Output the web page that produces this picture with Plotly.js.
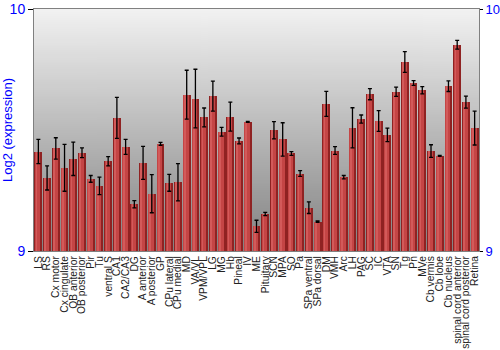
<!DOCTYPE html>
<html><head><meta charset="utf-8">
<script src="https://cdn.plot.ly/plotly-3.0.1.min.js"></script>
<style>html,body{margin:0;padding:0;background:#fff}#chart{width:500px;height:350px}</style>
</head><body><div id="chart"></div>
<script>
const categories = ["LS","RS","Cx motor","Cx cingulate","OB anterior","OB posterior","Pir","Tu","ventral S","CA1","CA2/CA3","DG","A anterior","A posterior","GP","CPu lateral","CPu medial","MD","VA/VL","VPM/VPL","LG","MG","Hb","Pineal","IV","ME","Pituitary","SCN","MPA","SO","Pa","SPa ventral","SPa dorsal","DM","VMH","Arc","LH","PAG","SC","IC","VTA","SN","Tg","Pn","MVe","Cb vermis","Cb lobe","Cb nucleus","spinal cord anterior","spinal cord posterior","Retina"];
const values = [9.411,9.302,9.424,9.344,9.381,9.406,9.298,9.269,9.371,9.550,9.430,9.193,9.364,9.237,9.443,9.282,9.284,9.646,9.630,9.552,9.640,9.493,9.555,9.455,9.534,9.102,9.153,9.499,9.461,9.403,9.320,9.179,9.121,9.608,9.415,9.305,9.509,9.545,9.648,9.537,9.480,9.658,9.781,9.694,9.664,9.413,9.393,9.681,9.852,9.615,9.508];
const errors = [0.050,0.050,0.044,0.097,0.069,0.020,0.014,0.036,0.019,0.085,0.031,0.015,0.068,0.079,0.006,0.035,0.077,0.101,0.121,0.039,0.062,0.018,0.060,0.012,0.002,0.025,0.007,0.036,0.069,0.008,0.012,0.024,0.003,0.052,0.016,0.007,0.083,0.017,0.023,0.043,0.028,0.019,0.043,0.010,0.015,0.026,0.002,0.022,0.018,0.025,0.070];
const yTicks = [9, 10];

// gradient background
const cv = document.createElement('canvas'); cv.width = 4; cv.height = 256;
const cx = cv.getContext('2d');
const g = cx.createLinearGradient(0,0,0,256);
g.addColorStop(0,'#f2f2f2'); g.addColorStop(1,'#828282');
cx.fillStyle = g; cx.fillRect(0,0,4,256);
const bgImg = cv.toDataURL();

const idx = categories.map((c,i)=>i);
const heights = values.map(v=>v-9);
const base = {
  type:'bar', x: idx, y: heights, base: 9, width: 0.9,
  marker:{color:'#8f2222', line:{width:0}}, hoverinfo:'skip', showlegend:false
};
const mid = {
  type:'bar', x: idx, y: heights, base: 9, width: 0.6, offset: -0.38,
  marker:{color:'#c44545', line:{width:0}}, hoverinfo:'skip', showlegend:false
};
const hi = {
  type:'bar', x: idx, y: heights, base: 9, width: 0.2, offset: -0.3,
  marker:{color:'#d35a5a', line:{width:0}}, hoverinfo:'skip', showlegend:false
};
const err = {
  type:'scatter', mode:'none', x: idx, y: values,
  error_y:{type:'data', array: errors, visible:true, color:'#000', thickness:1.3, width:2},
  hoverinfo:'skip', showlegend:false
};
const ghost = {type:'scatter', x:[0], y:[9.5], yaxis:'y2', mode:'markers', marker:{opacity:0}, hoverinfo:'skip', showlegend:false};

const blue = '#0000ff';
const F = 'Liberation Sans, Arial, sans-serif';
const layout = {
  width:500, height:350,
  margin:{l:34, r:21, t:9, b:99},
  paper_bgcolor:'#ffffff', plot_bgcolor:'rgba(0,0,0,0)',
  barmode:'overlay', bargap:0,
  font:{family:F},
  images:[{source:bgImg, xref:'paper', yref:'paper', x:0, y:1, sizex:1, sizey:1, sizing:'stretch', layer:'below'}],
  xaxis:{range:[-0.5,50.5], tickmode:'array', tickvals:idx, ticktext:categories, tickangle:-90,
    tickfont:{size:10.3, color:'#222', family:F}, ticks:'', showgrid:false, zeroline:false,
    showline:true, linecolor:'#808080', linewidth:1, mirror:true},
  yaxis:{range:[9,10], tickmode:'array', tickvals:yTicks, ticktext:['9','10'], ticks:'outside', ticklen:5, tickcolor:'#000',
    tickfont:{size:14, color:blue, family:F}, showgrid:false, zeroline:false, showline:true, linecolor:'#808080', linewidth:1,
    title:{text:'Log2 (expression)', font:{size:13, color:blue, family:F}, standoff:4}},
  yaxis2:{range:[9,10], overlaying:'y', side:'right', tickmode:'array', tickvals:yTicks, ticktext:['9','10'],
    ticks:'outside', ticklen:3, tickcolor:'#000', tickfont:{size:13, color:blue, family:F}, showgrid:false, zeroline:false,
    showline:true, linecolor:'#808080', linewidth:1}
};
Plotly.newPlot('chart', [base, mid, hi, err, ghost], layout, {staticPlot:true, displayModeBar:false});
</script></body></html>
